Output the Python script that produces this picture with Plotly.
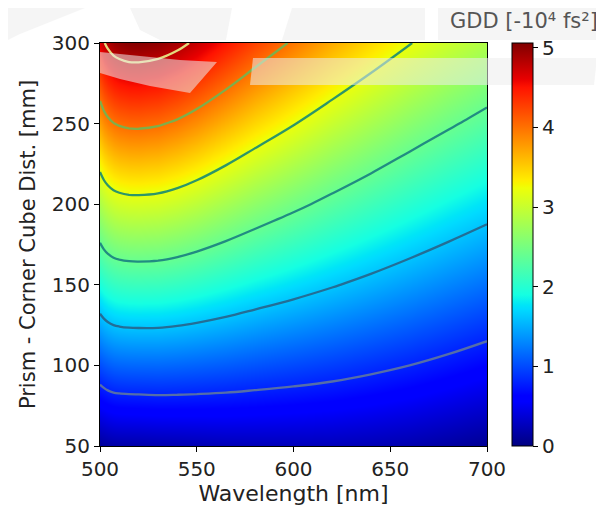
import plotly.graph_objects as go

# ---------------- data ----------------
wavelength_nm = [500, 502, 504, 507, 510, 515, 520, 530, 540, 550,
                 565, 580, 600, 620, 640, 660, 680, 700]
distance_mm = [50, 100, 150, 200, 250, 300]

# GDD [-1e4 fs^2]; one row per distance, one column per wavelength
gdd_row_50 = [0.109, 0.130, 0.149, 0.165, 0.172, 0.175, 0.179, 0.194, 0.204, 0.217,
              0.237, 0.246, 0.252, 0.251, 0.229, 0.197, 0.145, 0.083]
gdd_row_100 = [1.018, 1.060, 1.092, 1.122, 1.135, 1.146, 1.150, 1.153, 1.141, 1.122,
               1.088, 1.046, 0.993, 0.937, 0.871, 0.800, 0.720, 0.634]
gdd_row_150 = [1.927, 1.991, 2.036, 2.078, 2.099, 2.116, 2.120, 2.112, 2.078, 2.027,
               1.939, 1.846, 1.733, 1.623, 1.513, 1.403, 1.294, 1.186]
gdd_row_200 = [2.836, 2.921, 2.979, 3.035, 3.063, 3.087, 3.091, 3.072, 3.014, 2.932,
               2.790, 2.646, 2.474, 2.309, 2.155, 2.007, 1.869, 1.738]
gdd_row_250 = [3.745, 3.851, 3.923, 3.992, 4.027, 4.058, 4.062, 4.031, 3.951, 3.837,
               3.641, 3.446, 3.215, 2.996, 2.797, 2.610, 2.444, 2.290]
gdd_row_300 = [4.655, 4.781, 4.866, 4.949, 4.991, 5.029, 5.033, 4.990, 4.888, 4.742,
               4.492, 4.246, 3.956, 3.682, 3.439, 3.213, 3.018, 2.841]
gdd = [gdd_row_50, gdd_row_100, gdd_row_150, gdd_row_200, gdd_row_250, gdd_row_300]

contour_levels = [0.8, 1.6, 2.4, 3.2, 4.0, 4.8]
gdd_min, gdd_max = 0.0, 5.06

x_ticks = [500, 550, 600, 650, 700]
y_ticks = [50, 100, 150, 200, 250, 300]
cbar_ticks = [0, 1, 2, 3, 4, 5]

# ---------------- style ----------------
FONT = "DejaVu Sans"
TXT = "#222222"
contour_colors = ["rgb(85,110,168)", "rgb(35,110,150)", "rgb(33,140,130)",
                  "rgb(45,150,105)", "rgb(125,175,75)", "rgb(228,218,125)"]

# matplotlib 'jet'
jet = [
    [0.0, "rgb(0,0,128)"], [0.11, "rgb(0,0,255)"], [0.125, "rgb(0,0,255)"],
    [0.34, "rgb(0,219,255)"], [0.35, "rgb(0,229,247)"], [0.375, "rgb(21,255,226)"],
    [0.64, "rgb(238,255,8)"], [0.65, "rgb(247,246,0)"], [0.66, "rgb(255,236,0)"],
    [0.89, "rgb(255,19,0)"], [0.91, "rgb(232,0,0)"], [1.0, "rgb(128,0,0)"],
]

# page body has an 8 px margin; figure coordinates = window coordinates - 8
OFF = 8
W, H = 604 - OFF, 515 - OFF
L, R, T, B = 100 - OFF, 487 - OFF, 43 - OFF, 446 - OFF

fig = go.Figure()
fig.add_trace(go.Heatmap(
    x=wavelength_nm, y=distance_mm, z=gdd, zsmooth="best",
    colorscale=jet, zmin=gdd_min, zmax=gdd_max, hoverinfo="skip",
    colorbar=dict(
        x=(512 - OFF - L) / (R - L), xanchor="left", xpad=0, y=0, yanchor="bottom", ypad=0,
        len=1.0, lenmode="fraction", thickness=21, thicknessmode="pixels",
        outlinecolor="black", outlinewidth=1,
        tickvals=cbar_ticks, ticks="outside", ticklen=5, tickcolor="black",
        tickfont=dict(family=FONT, size=20, color=TXT),
    ),
))

for lev, col in zip(contour_levels, contour_colors):
    fig.add_trace(go.Contour(
        x=wavelength_nm, y=distance_mm, z=gdd,
        contours=dict(start=lev, end=lev, size=0.8, coloring="none"),
        line=dict(color=col, width=2.3, smoothing=1.0),
        showscale=False, hoverinfo="skip",
    ))

# light watermark remnants visible in the reference (window pixel coords)
def px(x, y):
    return (x - OFF - L) / (R - L), (B - (y - OFF)) / (B - T)

def poly(points):
    parts = []
    for i, (x, y) in enumerate(points):
        fx, fy = px(x, y)
        parts.append(("M" if i == 0 else "L") + f"{fx:.4f},{fy:.4f}")
    return " ".join(parts) + " Z"

wm_fill = "rgba(236,236,236,0.55)"
wm_shapes = [
    [(253, 58), (597, 58), (594, 85), (250, 85)],
    [(100, 52), (140, 56), (180, 60), (217, 62), (190, 93), (150, 86), (120, 79), (100, 73)],
    [(292, 8), (425, 8), (425, 40), (282, 40)],
    [(438, 8), (604, 8), (604, 40), (438, 40)],
    [(8, 8), (85, 8), (50, 22), (20, 34), (8, 40)],
    [(130, 8), (232, 8), (226, 40), (160, 40), (140, 30)],
]
shapes = [dict(type="path", path=poly(p), xref="paper", yref="paper",
               fillcolor=wm_fill, line=dict(width=0), layer="above")
          for p in wm_shapes]

axis_common = dict(
    showline=True, linecolor="black", linewidth=1, mirror=True,
    ticks="outside", ticklen=5, tickcolor="black", showgrid=False, zeroline=False,
    tickfont=dict(family=FONT, size=20, color=TXT),
)

fig.update_layout(
    width=W, height=H,
    margin=dict(l=L, r=W - R, t=T, b=H - B, autoexpand=False),
    paper_bgcolor="white", plot_bgcolor="white",
    showlegend=False,
    font=dict(family=FONT, color=TXT),
    xaxis=dict(range=[500, 700], tickvals=x_ticks, automargin=False,
               title=dict(text="Wavelength [nm]", font=dict(family=FONT, size=22, color=TXT),
                          standoff=5),
               **axis_common),
    yaxis=dict(range=[50, 300], tickvals=y_ticks, automargin=False,
               title=dict(text="Prism - Corner Cube Dist. [mm]",
                          font=dict(family=FONT, size=21, color=TXT), standoff=10),
               **axis_common),
    shapes=shapes,
    annotations=[dict(text="GDD [-10⁴ fs²]", xref="paper", yref="paper",
                      x=(600 - OFF - L) / (R - L), y=1 + (T - (21 - OFF)) / (B - T),
                      xanchor="right", yanchor="middle", showarrow=False,
                      font=dict(family=FONT, size=21, color="#555555"))],
)

fig.write_html("out.html")
